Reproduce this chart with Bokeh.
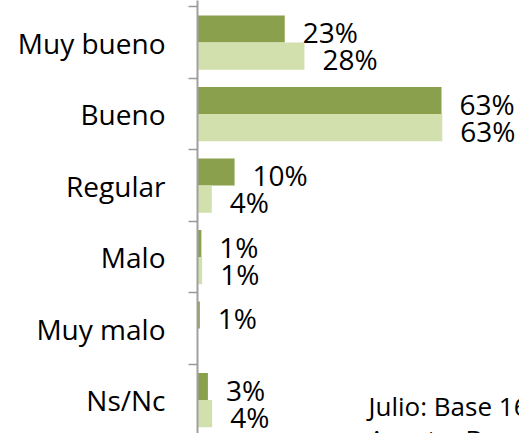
from bokeh.plotting import figure
from bokeh.models import Range1d, FixedTicker, ColumnDataSource, Label
from bokeh.core.properties import value
from bokeh.embed import file_html
from bokeh.resources import INLINE

categories = ["Muy bueno", "Bueno", "Regular", "Malo", "Muy malo", "Ns/Nc"]
julio = [22.6, 63.2, 9.6, 1.0, 0.6, 2.7]
agosto = [27.7, 63.4, 3.7, 1.2, 0.0, 3.8]
notes = ["Julio: Base 16", "Agosto: Base"]

DARK = "#8BA04C"
LIGHT = "#D2E0AE"
FONT = "Open Sans"

idx = list(range(len(categories)))
bar_h = 0.378

p = figure(width=519, height=433, output_backend="svg", toolbar_location=None,
           x_range=Range1d(0, 83.4), y_range=Range1d(5.467, -0.589),
           x_axis_location=None, min_border_left=197, min_border_right=0,
           min_border_top=0, min_border_bottom=0)
p.outline_line_color = None
p.grid.visible = False
p.background_fill_color = "white"
p.border_fill_color = "white"

src_j = ColumnDataSource(dict(y=[i - bar_h / 2 for i in idx], right=julio,
                              lab=[f"{round(v)}%" if v > 0 else "" for v in julio]))
src_a = ColumnDataSource(dict(y=[i + bar_h / 2 for i in idx], right=agosto,
                              lab=[f"{round(v)}%" if v > 0 else "" for v in agosto]))

p.hbar(y="y", left=0, right="right", height=bar_h, source=src_j,
       fill_color=DARK, line_color=None)
p.hbar(y="y", left=0, right="right", height=bar_h, source=src_a,
       fill_color=LIGHT, line_color=None)

for src in (src_j, src_a):
    p.text(x="right", y="y", text="lab", source=src, x_offset=18, y_offset=3,
           text_font=value(FONT), text_font_size="28px", text_color="black",
           text_baseline="middle", text_align="left")

ax = p.yaxis[0]
ax.ticker = FixedTicker(ticks=idx, minor_ticks=[i - 0.5 for i in range(len(categories) + 1)])
ax.major_label_overrides = {i: c for i, c in enumerate(categories)}
ax.major_tick_line_color = None
ax.major_tick_out = 0
ax.major_tick_in = 0
ax.minor_tick_line_color = "#999999"
ax.minor_tick_line_width = 1.5
ax.minor_tick_out = 9
ax.minor_tick_in = 0
ax.axis_line_color = "#A0A0A0"
ax.axis_line_width = 2
ax.major_label_text_font = FONT
ax.major_label_text_font_size = "28px"
ax.major_label_text_color = "black"
ax.major_label_standoff = 23

p.add_layout(Label(x=44.3, y=5.076, text=notes[0], text_font=FONT,
                   text_font_size="26px", text_color="black",
                   text_baseline="alphabetic", text_align="left"))
p.add_layout(Label(x=44.3, y=5.29, text=notes[1], text_font=FONT,
                   text_font_size="26px", text_color="black",
                   text_baseline="top", text_align="left"))

open("out.html", "w").write(file_html(p, INLINE))
